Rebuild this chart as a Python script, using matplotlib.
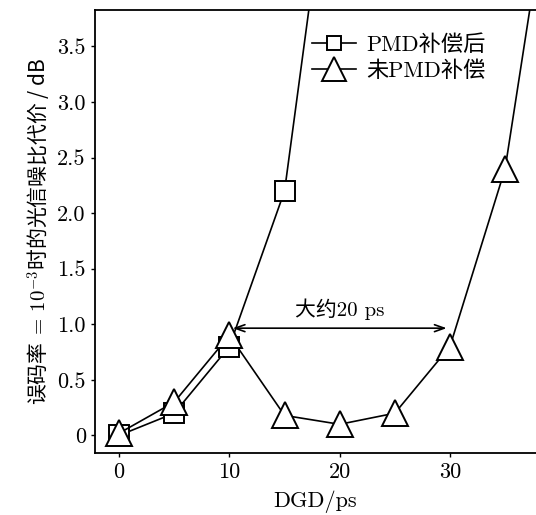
import matplotlib
matplotlib.use('Agg')
import matplotlib.pyplot as plt
from matplotlib.lines import Line2D

plt.rcParams['font.family'] = ['cmr10', 'Noto Sans CJK SC', 'DejaVu Sans']
plt.rcParams['mathtext.fontset'] = 'cm'
plt.rcParams['axes.unicode_minus'] = False

# PMD compensated (squares); last point lies above the visible range
comp_x = [0, 5, 10, 15, 20]
comp_y = [0.0, 0.2, 0.8, 2.2, 5.9]

# no PMD compensation (triangles); last point lies above the visible range
raw_x = [0, 5, 10, 15, 20, 25, 30, 35, 40]
raw_y = [0.02, 0.3, 0.9, 0.18, 0.1, 0.2, 0.8, 2.4, 5.6]

series_labels = ['PMD补偿后', '未PMD补偿']
x_ticks = [0, 10, 20, 30]
y_ticks = [0, 0.5, 1.0, 1.5, 2.0, 2.5, 3.0, 3.5]
y_tick_labels = ['0', '0.5', '1.0', '1.5', '2.0', '2.5', '3.0', '3.5']

fig = plt.figure(figsize=(5.36, 5.15), dpi=100)
ax = fig.add_axes([0.177, 0.120, 0.823, 0.861])

style = dict(color='black', lw=1.2, mfc='white', mec='black', mew=1.4)
ax.plot(comp_x, comp_y, marker='s', ms=14.5, zorder=3, **style)
ax.plot(raw_x, raw_y, marker='^', ms=19, zorder=4, **style)

ax.annotate('', xy=(10.3, 0.965), xytext=(29.7, 0.965),
            arrowprops=dict(arrowstyle='<->,head_length=0.7,head_width=0.25',
                            color='black', lw=1.2, shrinkA=0, shrinkB=0))
ax.text(20, 1.14, '大约20 ps', ha='center', va='center', fontsize=15)

ax.set_xlim(-2.2, 37.8)
ax.set_ylim(-0.16, 3.83)
ax.set_xticks(x_ticks)
ax.set_xticklabels([str(t) for t in x_ticks])
ax.set_yticks(y_ticks)
ax.set_yticklabels(y_tick_labels)
ax.tick_params(direction='out', length=3, width=1, labelsize=16)
ax.spines['right'].set_visible(False)
for s in ['left', 'bottom', 'top']:
    ax.spines[s].set_linewidth(1.3)

ax.set_xlabel('DGD/ps', fontsize=16, labelpad=6)
ax.set_ylabel('误码率 $=\\,10^{-3}$时的光信噪比代价 / dB', fontsize=15,
              family='Noto Sans CJK SC', labelpad=3)

# legend markers are drawn smaller than in the plot
handles = [Line2D([], [], marker='s', ms=9.5, **style),
           Line2D([], [], marker='^', ms=17, **style)]
ax.legend(handles, series_labels, loc='upper left',
          bbox_to_anchor=(0.492, 0.945), frameon=False, borderpad=0,
          borderaxespad=0, fontsize=16, handlelength=2.0,
          handletextpad=0.45, labelspacing=0.25)

fig.savefig('out.png', dpi=100)
